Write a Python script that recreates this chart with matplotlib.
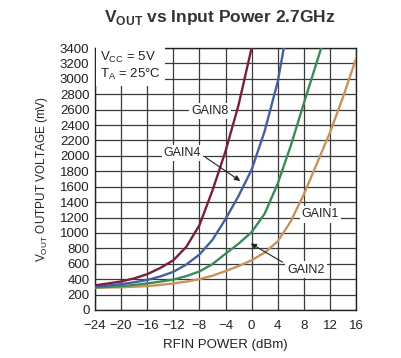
import numpy as np
import matplotlib
matplotlib.use('Agg')
import matplotlib.pyplot as plt

#----Data----
rfin_dbm = [-24, -22, -20, -18, -16, -14, -12, -10, -8, -6, -4, -2, 0, 2, 4, 6, 8, 10, 12, 14, 16]

gain8_mv = [320, 345, 370, 410, 465, 545, 645, 820, 1100, 1550, 2060, 2660, 3400,
            None, None, None, None, None, None, None, None]
gain4_mv = [305, 318, 335, 360, 390, 435, 495, 590, 720, 910, 1180, 1480, 1820, 2320, 2960, 3900,
            None, None, None, None, None]
gain2_mv = [293, 300, 310, 325, 345, 368, 395, 440, 500, 595, 730, 860, 1010, 1250, 1640, 2130,
            2680, 3220, 3760, None, None]
gain1_mv = [290, 292, 295, 302, 310, 325, 345, 368, 400, 445, 505, 570, 645, 745, 890, 1150,
            1500, 1900, 2300, 2760, 3260]

x_ticks = [-24, -20, -16, -12, -8, -4, 0, 4, 8, 12, 16]
y_ticks = list(range(0, 3401, 200))

plt.rcParams['font.family'] = ['Liberation Sans', 'DejaVu Sans']
plt.rcParams['mathtext.fontset'] = 'custom'
plt.rcParams['mathtext.rm'] = 'Liberation Sans'
plt.rcParams['mathtext.bf'] = 'Liberation Sans:bold'

c_gain8 = '#7a1e40'
c_gain4 = '#4560a0'
c_gain2 = '#3d8a55'
c_gain1 = '#c8925e'
txt = '#222222'

#----Figure----
fig = plt.figure(figsize=(4.01, 3.58), dpi=100)
ax = fig.add_axes([95 / 401, 1 - 310 / 358, 261 / 401, 262 / 358])

def to_arr(vals):
    return np.array([np.nan if v is None else v for v in vals], dtype=float)

for vals, col in [(gain1_mv, c_gain1), (gain2_mv, c_gain2), (gain4_mv, c_gain4), (gain8_mv, c_gain8)]:
    ax.plot(rfin_dbm, to_arr(vals), color=col, linewidth=1.7, solid_joinstyle='round',
            solid_capstyle='round', zorder=3)

ax.set_xlim(-24, 16)
ax.set_ylim(0, 3400)
ax.set_xticks(x_ticks)
ax.set_xticklabels([str(t).replace('-', '\u2212') for t in x_ticks])
ax.set_yticks(y_ticks)
ax.tick_params(length=0, labelsize=9.5, pad=4, colors=txt)
ax.tick_params(axis='x', pad=7)
ax.grid(True, color='#3a3a3a', linewidth=0.9)
ax.set_axisbelow(True)
for s in ax.spines.values():
    s.set_color(txt)
    s.set_linewidth(1.0)

ax.set_xlabel('RFIN POWER (dBm)', fontsize=9.5, color=txt, labelpad=5)
ax.set_ylabel('V$_{\\mathregular{OUT}}$ OUTPUT VOLTAGE (mV)', fontsize=8.5, color=txt, labelpad=7)

fig.text(0.548, 0.952, 'V$_{\\mathbf{OUT}}$ vs Input Power 2.7GHz', ha='center', va='center',
         fontsize=12.5, fontweight='bold', color='#333333')

#----Labels with white background----
box = dict(facecolor='white', edgecolor='none', pad=1.5)
ax.text(-23.2, 3170, 'V$_{\\mathregular{CC}}$ = 5V\nT$_{\\mathregular{A}}$ = 25°C', fontsize=9.5,
        va='center', ha='left', color=txt, linespacing=1.15,
        bbox=dict(facecolor='white', edgecolor='none', pad=3), zorder=4)
ax.text(-6.4, 2580, 'GAIN8', fontsize=9, ha='center', va='center', color=txt, bbox=box, zorder=4)
ax.text(-10.6, 2040, 'GAIN4', fontsize=9, ha='center', va='center', color=txt, bbox=box, zorder=4)
ax.text(10.55, 1240, 'GAIN1', fontsize=9, ha='center', va='center', color=txt, bbox=box, zorder=4)
ax.text(8.3, 525, 'GAIN2', fontsize=9, ha='center', va='center', color=txt, bbox=box, zorder=4)

arrow = dict(arrowstyle='-|>', color=txt, linewidth=0.8, mutation_scale=8)
ax.annotate('', xy=(-1.4, 1655), xytext=(-7.4, 2000), arrowprops=arrow, zorder=5)
ax.annotate('', xy=(-0.5, 881), xytext=(5.1, 603), arrowprops=arrow, zorder=5)

fig.savefig('out.png', dpi=100)
